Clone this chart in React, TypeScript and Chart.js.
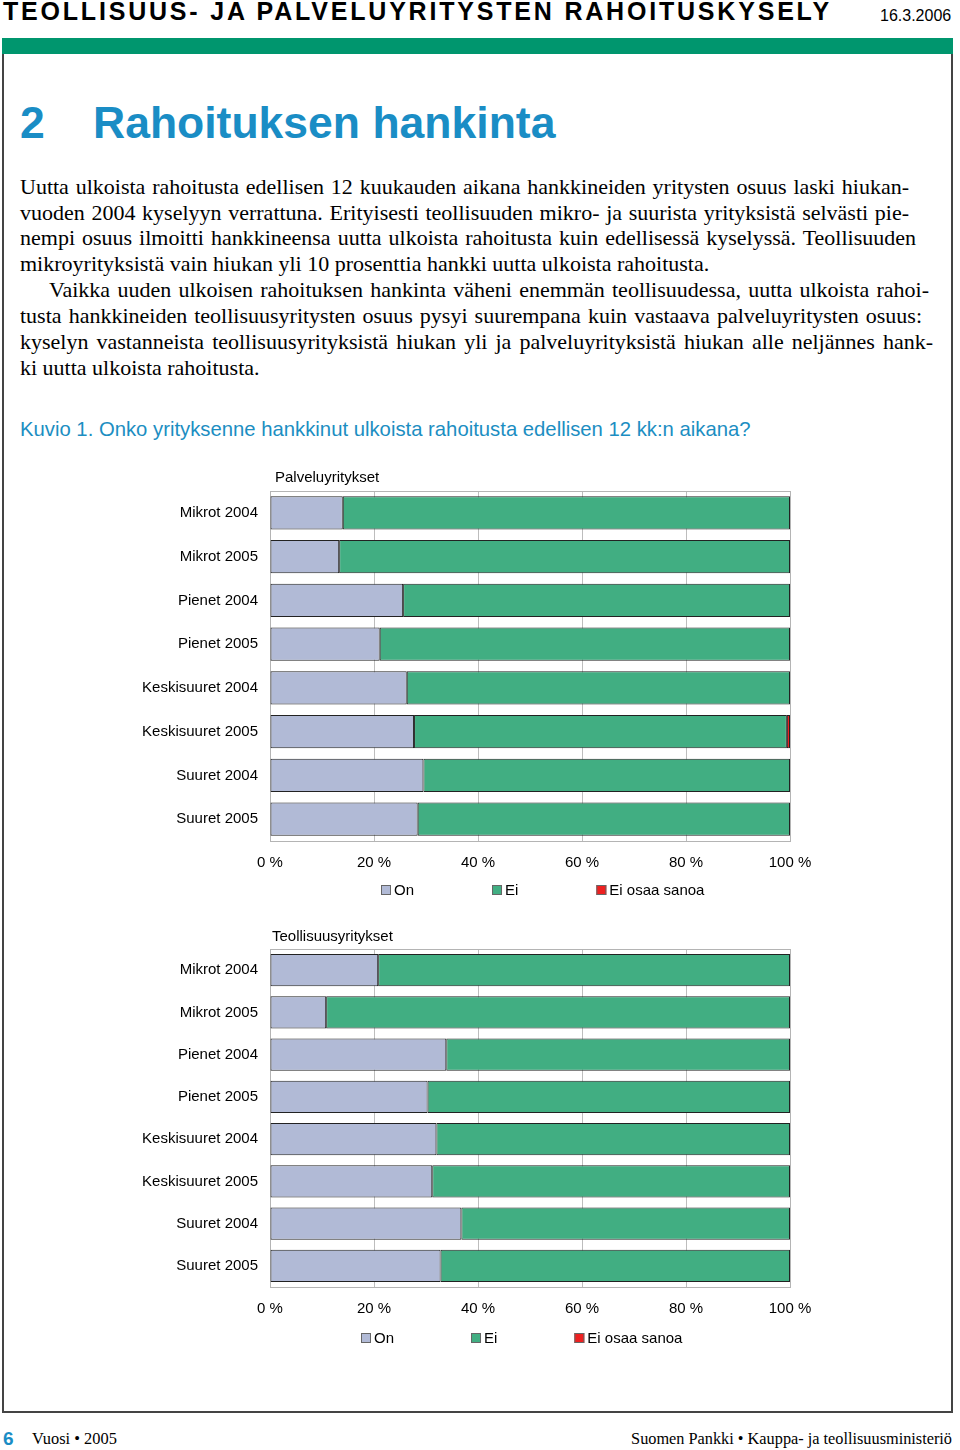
import React, { useEffect, useRef } from "react";
import { Chart, registerables } from "chart.js";

Chart.register(...registerables);

// ---------- data ----------
const categories = [
  "Mikrot 2004",
  "Mikrot 2005",
  "Pienet 2004",
  "Pienet 2005",
  "Keskisuuret 2004",
  "Keskisuuret 2005",
  "Suuret 2004",
  "Suuret 2005",
];
const seriesNames = ["On", "Ei", "Ei osaa sanoa"];

const palveluOn = [14.0, 13.3, 25.6, 21.1, 26.3, 27.7, 29.5, 28.4];
const palveluEi = [86.0, 86.7, 74.4, 78.9, 73.7, 71.7, 70.5, 71.6];
const palveluEos = [0, 0, 0, 0, 0, 0.6, 0, 0];

const teollOn = [20.8, 10.8, 33.9, 30.3, 32.0, 31.2, 36.8, 32.8];
const teollEi = [79.2, 89.2, 66.1, 69.7, 68.0, 68.8, 63.2, 67.2];
const teollEos = [0, 0, 0, 0, 0, 0, 0, 0];

const xMin = 0;
const xMax = 100;
const xStep = 20;
const tickSuffix = " %";

// ---------- styles ----------
const SANS = "'Liberation Sans', Arial, Helvetica, sans-serif";
const SERIF = "'Liberation Serif', 'Times New Roman', serif";
const COLORS = ["#b1bad6", "#41ae82", "#ee2020"];
const BLUE = "#1a8dc5";

const decorPlugin: any = {
  id: "decor",
  beforeDatasetsDraw(chart: any, _args: any, opts: any) {
    const { ctx, chartArea: a } = chart;
    ctx.save();
    ctx.strokeStyle = opts.frameColor || "#b0b0b0";
    ctx.lineWidth = 1;
    ctx.strokeRect(
      Math.round(a.left) + 0.5,
      Math.round(a.top) + 0.5,
      Math.round(a.right - a.left),
      Math.round(a.bottom - a.top)
    );
    ctx.restore();
  },
  afterDraw(chart: any, _args: any, opts: any) {
    const { ctx, chartArea: a } = chart;
    ctx.save();
    ctx.font = `15px ${SANS}`;
    ctx.textBaseline = "middle";
    ctx.textAlign = "left";
    ctx.fillStyle = "#000";
    ctx.fillText(opts.title, a.left + opts.titleDx, a.top + opts.titleDy);
    let x = Math.round(a.left + opts.legendDx);
    const y = Math.round(a.bottom + opts.legendDy);
    chart.data.datasets.forEach((ds: any) => {
      ctx.fillStyle = ds.backgroundColor;
      ctx.fillRect(x, y - 5, 10, 10);
      ctx.strokeStyle = "#666";
      ctx.lineWidth = 1;
      ctx.strokeRect(x + 0.5, y - 4.5, 9, 9);
      ctx.fillStyle = "#000";
      ctx.fillText(ds.label, x + 13, y + 1);
      x += 13 + ctx.measureText(ds.label).width + opts.gap;
    });
    ctx.restore();
  },
};

type BarProps = {
  top: number;
  height: number;
  title: string;
  on: number[];
  ei: number[];
  eos: number[];
  legendDx: number;
  legendDy: number;
  titleDx: number;
  titleDy: number;
  gap: number;
};

function StackedBars(p: BarProps) {
  const ref = useRef<HTMLCanvasElement | null>(null);
  useEffect(() => {
    if (!ref.current) return;
    const series = [p.on, p.ei, p.eos];
    const chart = new Chart(ref.current, {
      type: "bar",
      data: {
        labels: categories,
        datasets: series.map((d, i) => ({
          label: seriesNames[i],
          data: d,
          backgroundColor: COLORS[i],
          borderColor: "#222",
          borderWidth: (c: any) => (c.raw > 0 ? 1 : 0),
          borderSkipped: false,
          barPercentage: 0.76,
          categoryPercentage: 1,
        })),
      },
      options: {
        indexAxis: "y",
        responsive: false,
        animation: false,
        layout: { padding: { left: 0, right: 130, top: 30, bottom: 30 } },
        plugins: {
          legend: { display: false },
          tooltip: { enabled: false },
          title: { display: false },
          decor: {
            title: p.title,
            titleDx: p.titleDx,
            titleDy: p.titleDy,
            legendDx: p.legendDx,
            legendDy: p.legendDy,
            gap: p.gap,
            frameColor: "#b4b4b4",
          },
        } as any,
        scales: {
          x: {
            stacked: true,
            min: xMin,
            max: xMax,
            ticks: {
              stepSize: xStep,
              callback: (v: any) => v + tickSuffix,
              font: { family: SANS, size: 15 },
              color: "#000",
              padding: 13,
              maxRotation: 0,
            },
            grid: { color: "#bdbdbd", drawTicks: false, lineWidth: 1 },
            border: { display: false },
          },
          y: {
            stacked: true,
            ticks: {
              font: { family: SANS, size: 15 },
              color: "#000",
              padding: 12,
            },
            grid: { display: false, drawTicks: false },
            border: { display: false },
            afterFit: (s: any) => {
              s.width = 250;
            },
          },
        },
      } as any,
      plugins: [decorPlugin],
    });
    return () => chart.destroy();
  }, []);
  return (
    <canvas
      ref={ref}
      width={900}
      height={p.height}
      style={{ position: "absolute", left: 20, top: p.top, width: 900, height: p.height }}
    />
  );
}

const bodyLines: { text: string; left: number; right: number; justify: boolean }[] = [
  { text: "Uutta ulkoista rahoitusta edellisen 12 kuukauden aikana hankkineiden yritysten osuus laski hiukan-", left: 20, right: 909, justify: true },
  { text: "vuoden 2004 kyselyyn verrattuna. Erityisesti teollisuuden mikro- ja suurista yrityksistä selvästi pie-", left: 20, right: 909, justify: true },
  { text: "nempi osuus ilmoitti hankkineensa uutta ulkoista rahoitusta kuin edellisessä kyselyssä. Teollisuuden", left: 20, right: 916, justify: true },
  { text: "mikroyrityksistä vain hiukan yli 10 prosenttia hankki uutta ulkoista rahoitusta.", left: 20, right: 940, justify: false },
  { text: "Vaikka uuden ulkoisen rahoituksen hankinta väheni enemmän teollisuudessa, uutta ulkoista rahoi-", left: 49, right: 929, justify: true },
  { text: "tusta hankkineiden teollisuusyritysten osuus pysyi suurempana kuin vastaava palveluyritysten osuus:", left: 20, right: 922, justify: true },
  { text: "kyselyn vastanneista teollisuusyrityksistä hiukan yli ja palveluyrityksistä hiukan alle neljännes hank-", left: 20, right: 933, justify: true },
  { text: "ki uutta ulkoista rahoitusta.", left: 20, right: 940, justify: false },
];

export default function App() {
  const abs = (s: React.CSSProperties): React.CSSProperties => ({ position: "absolute", whiteSpace: "nowrap", ...s });
  return (
    <div style={{ position: "absolute", left: 0, top: 0, width: 960, height: 1450, background: "#fff", overflow: "hidden", color: "#000" }}>
      {/* header */}
      <div style={abs({ left: 3, top: -1, font: `bold 25px/25px ${SANS}`, letterSpacing: "2.8px" })}>
        TEOLLISUUS- JA PALVELUYRITYSTEN RAHOITUSKYSELY
      </div>
      <div style={abs({ left: 880, top: 8, font: `16px/16px ${SANS}` })}>16.3.2006</div>
      <div style={{ position: "absolute", left: 2, top: 38, width: 951, height: 16, background: "#00966e" }} />
      <div style={{ position: "absolute", left: 2, top: 54, width: 947, height: 1357, border: "2px solid #444", borderTop: "none" }} />

      {/* title */}
      <div style={abs({ left: 20, top: 101, font: `bold 44.5px/44.5px ${SANS}`, color: BLUE })}>2</div>
      <div style={abs({ left: 93, top: 101, font: `bold 44.5px/44.5px ${SANS}`, color: BLUE })}>Rahoituksen hankinta</div>

      {/* body */}
      {bodyLines.map((l, i) => (
        <div
          key={i}
          style={{
            position: "absolute",
            left: l.left,
            top: 173.6 + 25.9 * i,
            width: l.right - l.left,
            font: `22px/26px ${SERIF}`,
            textAlign: l.justify ? "justify" : "left",
            textAlignLast: l.justify ? "justify" : "left",
            whiteSpace: "normal",
          } as React.CSSProperties}
        >
          {l.text}
        </div>
      ))}

      {/* caption */}
      <div style={abs({ left: 20, top: 417, font: `20.3px/24px ${SANS}`, color: "#1c8ec2" })}>
        Kuvio 1. Onko yrityksenne hankkinut ulkoista rahoitusta edellisen 12 kk:n aikana?
      </div>

      <StackedBars top={461} height={454} title="Palveluyritykset" on={palveluOn} ei={palveluEi} eos={palveluEos} titleDx={5} titleDy={-13} legendDx={111} legendDy={49} gap={78} />
      <StackedBars top={919} height={442} title="Teollisuusyritykset" on={teollOn} ei={teollEi} eos={teollEos} titleDx={2} titleDy={-12} legendDx={91} legendDy={51} gap={77} />

      {/* footer */}
      <div style={abs({ left: 3, top: 1429, font: `bold 19px/19px ${SANS}`, color: BLUE })}>6</div>
      <div style={abs({ left: 32, top: 1430.5, font: `16.4px/16px ${SERIF}` })}>Vuosi • 2005</div>
      <div style={abs({ right: 8, top: 1430.5, font: `16.3px/16px ${SERIF}` })}>Suomen Pankki • Kauppa- ja teollisuusministeriö</div>
    </div>
  );
}
